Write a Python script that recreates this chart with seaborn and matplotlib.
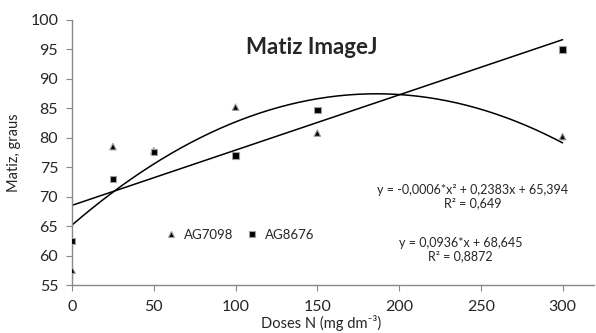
import numpy as np
import pandas as pd
import seaborn as sns
import matplotlib
matplotlib.use("Agg")
import matplotlib.pyplot as plt

doses = [0, 25, 50, 100, 150, 300]
ag7098 = [57.5, 78.5, 77.8, 85.2, 80.8, 80.2]
ag8676 = [62.5, 73.0, 77.6, 77.0, 84.7, 95.0]
series_names = ["AG7098", "AG8676"]
xticks = [0, 50, 100, 150, 200, 250, 300]
yticks = [55, 60, 65, 70, 75, 80, 85, 90, 95, 100]
eq_quad = "y = -0,0006*x\u00b2 + 0,2383x + 65,394\nR\u00b2 = 0,649"
eq_lin = "y = 0,0936*x + 68,645\nR\u00b2 = 0,8872"

sns.set_style("white")
plt.rcParams['font.family'] = ['Lato', 'DejaVu Sans']

df = pd.DataFrame({
    "dose": doses * 2,
    "val": ag7098 + ag8676,
    "cult": [series_names[0]] * len(doses) + [series_names[1]] * len(doses),
})

fig = plt.figure(figsize=(5.96, 3.33), dpi=100)
ax = fig.add_axes([0.121, 0.144, 0.875, 0.796])

sns.scatterplot(data=df, x="dose", y="val", hue="cult", style="cult",
                markers={"AG7098": "^", "AG8676": "s"},
                palette={"AG7098": "black", "AG8676": "black"},
                s=22, edgecolor="#a0a0a0", linewidth=0.8, ax=ax, zorder=3)

xs = np.linspace(0, 300, 200)
pq = np.polyfit(doses, ag7098, 2)
pl = np.polyfit(doses, ag8676, 1)
sns.lineplot(x=xs, y=np.polyval(pq, xs), color="black", lw=1.1, ax=ax)
sns.lineplot(x=xs, y=np.polyval(pl, xs), color="black", lw=1.1, ax=ax)

ax.set_xlim(0, 319)
ax.set_ylim(55, 100)
ax.set_xticks(xticks)
ax.set_yticks(yticks)
for s in ["top", "right"]:
    ax.spines[s].set_visible(False)
for s in ["left", "bottom"]:
    ax.spines[s].set_color("#888888")
    ax.spines[s].set_linewidth(1.0)
ax.tick_params(axis="both", direction="out", length=4, color="#888888",
               labelsize=11.5, bottom=True, left=True)
ax.tick_params(axis="x", pad=7)
ax.tick_params(axis="y", pad=6)
ax.set_xlabel("Doses N (mg dm\u207b\u00b3)", fontsize=10.5)
ax.set_ylabel("Matiz, graus", fontsize=10.5)
ax.xaxis.set_label_coords(0.478, -0.112)
ax.yaxis.set_label_coords(-0.098, 0.5)

ax.text(0.459, 0.898, "Matiz ImageJ", transform=ax.transAxes, ha="center",
        va="center", fontsize=16, fontweight="bold")
ax.text(0.768, 0.335, eq_quad, transform=ax.transAxes, ha="center", va="center",
        fontsize=9, linespacing=1.15)
ax.text(0.745, 0.135, eq_lin, transform=ax.transAxes, ha="center", va="center",
        fontsize=9, linespacing=1.15)

handles, labels = ax.get_legend_handles_labels()
ax.legend(handles, labels, loc="center", bbox_to_anchor=(0.315, 0.19),
          ncol=2, frameon=False, fontsize=9.5, handletextpad=0.0,
          columnspacing=0.4, markerscale=0.9)

fig.savefig("out.png", dpi=100)
